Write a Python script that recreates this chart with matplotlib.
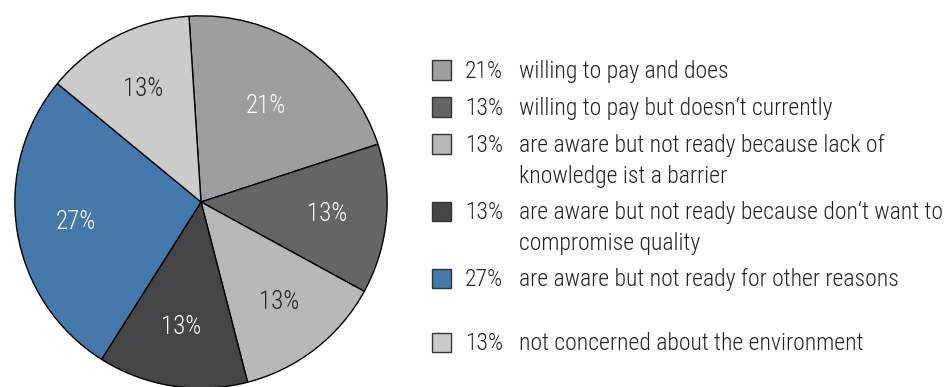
import matplotlib.pyplot as plt
from matplotlib.patches import Rectangle
import numpy as np

shares = [21, 13, 13, 13, 27, 13]
pct_labels = ["21%", "13%", "13%", "13%", "27%", "13%"]
descriptions = [
    ["willing to pay and does"],
    ["willing to pay but doesn\u2018t currently"],
    ["are aware but not ready because lack of", "knowledge ist a barrier"],
    ["are aware but not ready because don\u2018t want to", "compromise quality"],
    ["are aware but not ready for other reasons"],
    ["not concerned about the environment"],
]
colors = ["#9d9ea0", "#646567", "#b7b8ba", "#454547", "#4579ab", "#cbcbcb"]
label_colors = ["white", "white", "#222222", "white", "white", "#222222"]

plt.rcParams['font.family'] = ['Roboto Condensed', 'Liberation Sans', 'DejaVu Sans']
plt.rcParams['font.weight'] = 'light'
FS = 17

W, H = 949, 387
fig = plt.figure(figsize=(W / 100, H / 100), dpi=100)

# pie centre (201, 202) px from top-left, radius 188 px
cx, cy, r = 201, 202, 188
ax = fig.add_axes([(cx - r) / W, (H - cy - r) / H, 2 * r / W, 2 * r / H])
wedges, _ = ax.pie(shares, colors=colors, startangle=93.7, counterclock=False,
                   wedgeprops=dict(edgecolor="black", linewidth=1.0))
ax.set_xlim(-1.01, 1.01)
ax.set_ylim(-1.01, 1.01)
ax.set_aspect('equal')
ax.axis('off')

dists = [0.62, 0.68, 0.68, 0.68, 0.68, 0.68]
for w, lab, c, d in zip(wedges, pct_labels, label_colors, dists):
    ang = np.deg2rad((w.theta1 + w.theta2) / 2)
    ax.text(d * np.cos(ang), d * np.sin(ang), lab, color=c, fontsize=FS + 1,
            ha='center', va='center')

# legend drawn by hand (row centres in px from top)
row_y = [70, 107, 144, 211, 278, 342]
sq = 19
for y, col, lab, desc in zip(row_y, colors, pct_labels, descriptions):
    fig.patches.append(Rectangle((432 / W, (H - y - sq / 2) / H), sq / W, sq / H,
                                 transform=fig.transFigure, facecolor=col,
                                 edgecolor="#333333", linewidth=1.0))
    fig.text(465 / W, (H - y - 8) / H, lab, fontsize=FS, color="#222222",
             ha='left', va='baseline')
    for i, line in enumerate(desc):
        fig.text(519 / W, (H - y - 8 - 31 * i) / H, line, fontsize=FS, color="#222222",
                 ha='left', va='baseline')

fig.savefig("out.png", dpi=100)
